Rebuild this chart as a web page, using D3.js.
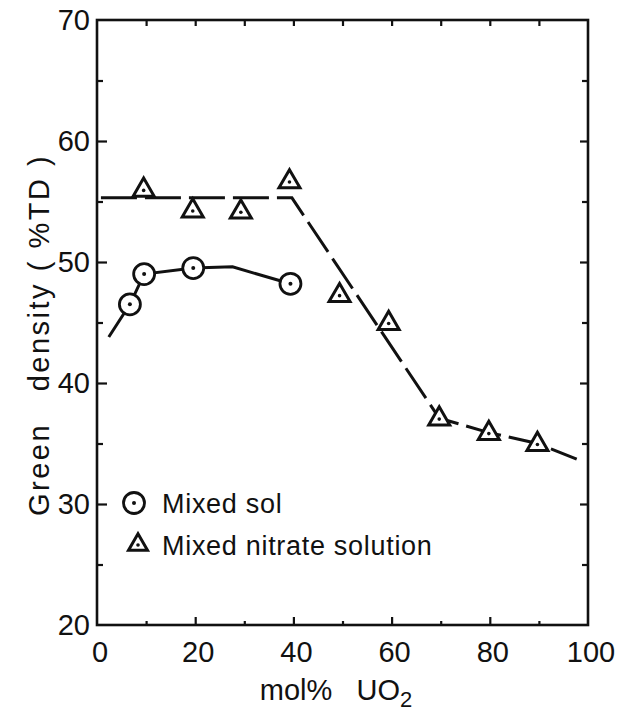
<!DOCTYPE html>
<html>
<head>
<meta charset="utf-8">
<script src="https://cdn.jsdelivr.net/npm/d3@7"></script>
<style>
  html, body { margin: 0; padding: 0; background: #fff; }
  svg { display: block; }
  text { font-family: "Liberation Sans", Arial, sans-serif; fill: #111; }
</style>
</head>
<body>
<svg id="chart" width="620" height="714"></svg>
<script>
// ---- data ----
const xTicks = [0, 20, 40, 60, 80, 100];
const yTicks = [20, 30, 40, 50, 60, 70];

// Mixed sol (circles)
const solX = [6.7, 9.6, 19.6, 39.4];
const solY = [46.5, 49.0, 49.5, 48.2];
// Mixed sol fitted curve
const solCurveX = [2.4, 6.7, 9.6, 19.6, 27.6, 39.4];
const solCurveY = [43.8, 46.5, 49.0, 49.5, 49.6, 48.2];

// Mixed nitrate solution (triangles)
const nitX = [9.5, 19.5, 29.3, 39.2, 49.4, 59.4, 69.7, 79.8, 89.7];
const nitY = [56.0, 54.3, 54.2, 56.7, 47.3, 45.0, 37.1, 35.9, 35.0];
// Mixed nitrate fitted curve
const nitCurveX = [0.8, 39.7, 69.7, 79.8, 89.7, 97.7];
const nitCurveY = [55.3, 55.3, 37.1, 35.9, 35.0, 33.7];

const legendLabels = ["Mixed sol", "Mixed nitrate solution"];

// ---- layout ----
const svg = d3.select("#chart");
const L = 97, R = 588, T = 20, B = 625;
const x = d3.scaleLinear().domain([0, 100]).range([L, R]);
const y = d3.scaleLinear().domain([20, 70]).range([B, T]);

const ink = "#111";

// frame
svg.append("rect")
  .attr("x", L).attr("y", T).attr("width", R - L).attr("height", B - T)
  .attr("fill", "none").attr("stroke", ink).attr("stroke-width", 2.6);

function styleAxis(g) {
  g.select(".domain").remove();
  g.selectAll(".tick line").attr("stroke", ink).attr("stroke-width", 2.2);
  g.selectAll(".tick text").remove();
}

const majorY = d3.range(20, 71, 10);
const minorY = d3.range(25, 70, 10);
const majorXb = [20, 40, 60, 80];
const minorXb = [10, 30, 50, 70, 90];
const topX = d3.range(10, 100, 10);

// left ticks (inward)
svg.append("g").attr("transform", `translate(${L},0)`)
  .call(d3.axisLeft(y).tickValues(majorY.slice(1, -1)).tickSize(-10)).call(styleAxis);
svg.append("g").attr("transform", `translate(${L},0)`)
  .call(d3.axisLeft(y).tickValues(minorY).tickSize(-6)).call(styleAxis);
// right ticks (inward)
svg.append("g").attr("transform", `translate(${R},0)`)
  .call(d3.axisRight(y).tickValues(majorY.slice(1, -1)).tickSize(-8)).call(styleAxis);
svg.append("g").attr("transform", `translate(${R},0)`)
  .call(d3.axisRight(y).tickValues(minorY).tickSize(-6)).call(styleAxis);
// bottom ticks (inward)
svg.append("g").attr("transform", `translate(0,${B})`)
  .call(d3.axisBottom(x).tickValues(majorXb).tickSize(-8)).call(styleAxis);
svg.append("g").attr("transform", `translate(0,${B})`)
  .call(d3.axisBottom(x).tickValues(minorXb).tickSize(-4)).call(styleAxis);
// top ticks (inward)
svg.append("g").attr("transform", `translate(0,${T})`)
  .call(d3.axisTop(x).tickValues(topX).tickSize(-6)).call(styleAxis);

// tick labels
svg.append("g").selectAll("text").data(yTicks).join("text")
  .attr("x", L - 7).attr("y", d => y(d)).attr("dy", "0.36em")
  .attr("text-anchor", "end").attr("font-size", 29).text(d => d);
svg.append("g").selectAll("text").data(xTicks).join("text")
  .attr("x", d => x(d) + 3).attr("y", B + 37)
  .attr("text-anchor", "middle").attr("font-size", 29).text(d => d);

// axis titles
const xt = svg.append("text").attr("x", 336).attr("y", 700)
  .attr("text-anchor", "middle").attr("font-size", 29);
xt.append("tspan").text("mol%\u00a0\u00a0 UO");
xt.append("tspan").attr("font-size", 22).attr("dy", 7).text("2");

svg.append("text")
  .attr("transform", `translate(49,335) rotate(-90)`)
  .attr("text-anchor", "middle").attr("font-size", 29)
  .attr("letter-spacing", 2.5)
  .text("Green\u00a0\u00a0 density ( %TD )");

// curves
const line = d3.line().x(d => x(d[0])).y(d => y(d[1]));
svg.append("path")
  .datum(nitCurveX.map((v, i) => [v, nitCurveY[i]]))
  .attr("d", line).attr("fill", "none").attr("stroke", ink)
  .attr("stroke-width", 3).attr("stroke-dasharray", "36,8");
svg.append("path")
  .datum(solCurveX.map((v, i) => [v, solCurveY[i]]))
  .attr("d", line).attr("fill", "none").attr("stroke", ink)
  .attr("stroke-width", 3);

// markers
function circleMarker(g, cx, cy) {
  g.append("circle").attr("cx", cx).attr("cy", cy).attr("r", 10.5)
    .attr("fill", "#fff").attr("stroke", ink).attr("stroke-width", 2.8);
  g.append("circle").attr("cx", cx).attr("cy", cy).attr("r", 2).attr("fill", ink);
}
function triMarker(g, cx, cy, s) {
  const h = s * 0.866;
  g.append("path")
    .attr("d", `M${cx},${cy - h * 0.62}L${cx + s / 2},${cy + h * 0.38}L${cx - s / 2},${cy + h * 0.38}Z`)
    .attr("fill", "#fff").attr("stroke", ink).attr("stroke-width", 3)
    .attr("stroke-linejoin", "miter");
  g.append("circle").attr("cx", cx).attr("cy", cy + 1).attr("r", 1.8).attr("fill", ink);
}

const mg = svg.append("g");
solX.forEach((v, i) => circleMarker(mg, x(v), y(solY[i])));
nitX.forEach((v, i) => triMarker(mg, x(v), y(nitY[i]), 21));

// legend
const lg = svg.append("g");
circleMarker(lg, 134, 503);
triMarker(lg, 138, 544, 19);
lg.append("text").attr("x", 162).attr("y", 513).attr("font-size", 27).attr("letter-spacing", 0.7).text(legendLabels[0]);
lg.append("text").attr("x", 162).attr("y", 555).attr("font-size", 27).attr("letter-spacing", 0.7).text(legendLabels[1]);
</script>
</body>
</html>
